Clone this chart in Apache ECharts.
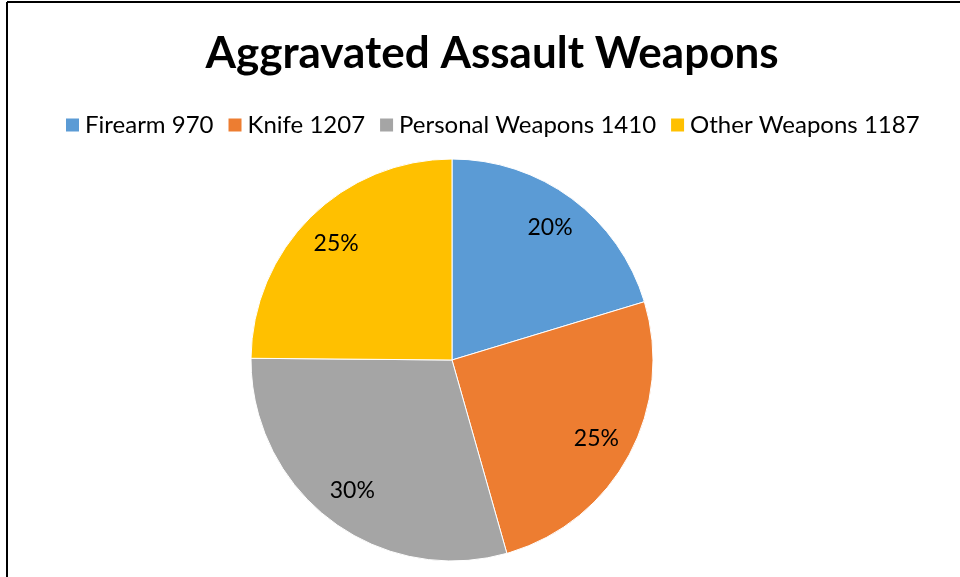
<!DOCTYPE html>
<html>
<head>
<meta charset="utf-8">
<script src="https://cdn.jsdelivr.net/npm/echarts@6/dist/echarts.min.js"></script>
<style>
html,body{margin:0;padding:0;background:#fff;}
#c{width:960px;height:577px;}
</style>
</head>
<body>
<div id="c"></div>
<script>
const categories = ['Firearm', 'Knife', 'Personal Weapons', 'Other Weapons'];
const values = [970, 1207, 1410, 1187];
const colors = ['#5B9BD5', '#ED7D31', '#A5A5A5', '#FFC000'];
const titleText = 'Aggravated Assault Weapons';

const FONT = 'Lato';
const total = values.reduce((a, b) => a + b, 0);
const data = categories.map((c, i) => ({ name: c, value: values[i], itemStyle: { color: colors[i] } }));
const labelData = categories.map((c, i) => ({ name: c, value: values[i] }));

const chart = echarts.init(document.getElementById('c'), null, { renderer: 'canvas' });
chart.setOption({
  animation: false,
  backgroundColor: '#fff',
  title: {
    text: titleText,
    left: 487, top: 27, textAlign: 'center',
    textStyle: { fontFamily: FONT, fontWeight: 'bold', fontSize: 44, color: '#000' }
  },
  legend: {
    data: categories,
    left: 59, top: 108,
    itemWidth: 15, itemHeight: 15, itemGap: 13,
    icon: 'rect',
    formatter: name => name + ' ' + values[categories.indexOf(name)],
    textStyle: { fontFamily: FONT, fontSize: 24, color: '#000' }
  },
  graphic: [
    { type: 'line', shape: { x1: 7, y1: 2, x2: 960, y2: 2 }, style: { stroke: '#000', lineWidth: 2 } },
    { type: 'line', shape: { x1: 7, y1: 2, x2: 7, y2: 577 }, style: { stroke: '#000', lineWidth: 2 } }
  ],
  series: [
    {
      type: 'pie',
      center: [452, 360],
      radius: [0, 201],
      startAngle: 90,
      clockwise: true,
      label: { show: false },
      labelLine: { show: false },
      itemStyle: { borderColor: '#fff', borderWidth: 1 },
      emphasis: { disabled: true },
      data: data
    },
    {
      type: 'pie',
      center: [452, 360],
      radius: [122, 201],
      startAngle: 90,
      clockwise: true,
      silent: true,
      legendHoverLink: false,
      itemStyle: { color: 'rgba(0,0,0,0)' },
      label: {
        show: true, position: 'inside',
        formatter: p => Math.round(p.value / total * 100) + '%',
        fontFamily: FONT, fontSize: 23, color: '#000'
      },
      labelLine: { show: false },
      emphasis: { disabled: true },
      data: labelData
    }
  ]
});
</script>
</body>
</html>
